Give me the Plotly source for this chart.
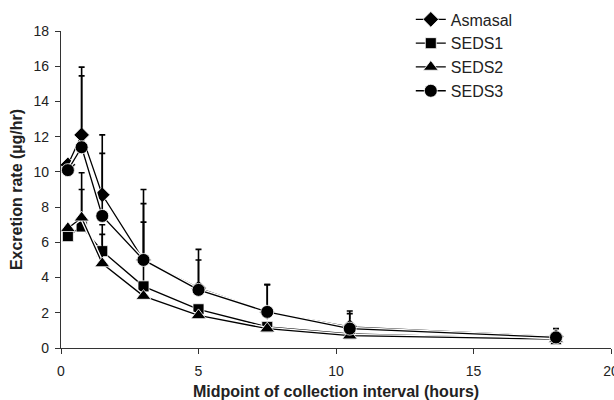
import plotly.graph_objects as go

x_hours = [0.25, 0.75, 1.5, 3, 5, 7.5, 10.5, 18]

asmasal = [10.4, 12.1, 8.7, 5.0, 3.4, 2.05, 1.2, 0.65]
seds1 = [6.35, 6.9, 5.5, 3.5, 2.2, 1.2, 0.8, 0.5]
seds2 = [6.8, 7.4, 4.8, 2.95, 1.85, 1.1, 0.7, 0.5]
seds3 = [10.1, 11.4, 7.5, 5.0, 3.3, 2.05, 1.1, 0.6]

asmasal_err = [0, 3.85, 3.4, 4.0, 2.2, 1.55, 0.9, 0.45]
seds1_err = [0, 2.1, 1.5, 3.65, 0, 0, 0, 0]
seds2_err = [0, 2.55, 1.65, 0, 0, 0, 0, 0]
seds3_err = [0, 4.05, 3.55, 3.2, 1.7, 1.55, 0.85, 0]

series_names = ["Asmasal", "SEDS1", "SEDS2", "SEDS3"]
series_vals = [asmasal, seds1, seds2, seds3]
series_errs = [asmasal_err, seds1_err, seds2_err, seds3_err]
symbols = ["diamond", "square", "triangle-up", "circle"]
sizes = [12, 11, 13, 13]

x_ticks = [0, 5, 10, 15, 20]
y_ticks = [0, 2, 4, 6, 8, 10, 12, 14, 16, 18]

fig = go.Figure()
for name, vals, errs, sym, sz in zip(series_names, series_vals, series_errs, symbols, sizes):
    # white halo under the line
    fig.add_trace(go.Scatter(
        x=x_hours, y=vals, mode="lines",
        line=dict(color="white", width=4),
        showlegend=False, hoverinfo="skip"))
    fig.add_trace(go.Scatter(
        x=x_hours, y=vals, mode="lines+markers", name=name,
        line=dict(color="black", width=1.3),
        marker=dict(symbol=sym, size=sz, color="black",
                    line=dict(color="white", width=0.8)),
        error_y=dict(type="data", array=errs, arrayminus=[0] * len(errs),
                     symmetric=False, color="black", thickness=1.6, width=3),
    ))

fig.update_layout(
    width=614, height=400,
    margin=dict(l=61, r=3, t=24, b=52),
    paper_bgcolor="white", plot_bgcolor="white",
    font=dict(family="Liberation Sans, Arial, sans-serif", size=14, color="#222"),
    legend=dict(x=0.636, y=1.09, xanchor="left", yanchor="top",
                bgcolor="rgba(0,0,0,0)", font=dict(size=16, color="#222"),
                tracegroupgap=0, itemwidth=30),
    xaxis=dict(range=[0, 20], tickvals=x_ticks, ticks="outside", ticklen=5,
               tickcolor="#333", showline=True, linecolor="#333", linewidth=1.3,
               showgrid=False, zeroline=False, automargin=False,
               ticklabeloverflow="allow", ticklabelstandoff=5,
               tickfont=dict(size=14),
               title=dict(text="<b>Midpoint of collection interval (hours)</b>",
                          font=dict(size=16), standoff=20)),
    yaxis=dict(range=[0, 18], tickvals=y_ticks, ticks="outside", ticklen=5,
               tickcolor="#333", showline=True, linecolor="#333", linewidth=1.3,
               showgrid=False, zeroline=False, automargin=False,
               ticklabelstandoff=3,
               tickfont=dict(size=14),
               title=dict(text="<b>Excretion rate (µg/hr)</b>",
                          font=dict(size=16), standoff=6)),
)

# remove the browser's default 8px body margin so the figure fills the window
fig.write_html(
    "out.html",
    config={"displayModeBar": False},
    post_script="document.body.style.margin='0';document.body.style.overflow='hidden';",
)
